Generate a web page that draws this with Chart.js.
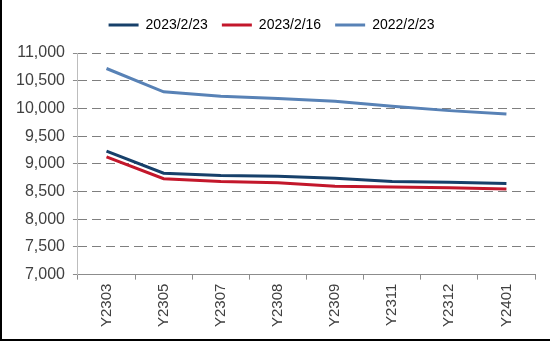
<!DOCTYPE html>
<html>
<head>
<meta charset="utf-8">
<script src="https://cdn.jsdelivr.net/npm/chart.js@4"></script>
<style>
  html, body { margin: 0; padding: 0; background: #fff; }
  #wrap {
    width: 550px; height: 341px; box-sizing: border-box;
    border-left: 2px solid #000; border-bottom: 2px solid #000;
    position: relative;
  }
</style>
</head>
<body>
<div id="wrap"><canvas id="chart"></canvas></div>
<script>
// contract months on the x axis
const contracts = ["Y2303", "Y2305", "Y2307", "Y2308", "Y2309", "Y2311", "Y2312", "Y2401"];

// prices
const feb23_2023 = [9230, 8830, 8790, 8775, 8740, 8680, 8665, 8645];
const feb16_2023 = [9125, 8730, 8680, 8660, 8595, 8580, 8570, 8545];
const feb23_2022 = [10720, 10300, 10220, 10180, 10130, 10040, 9960, 9900];

const yTicks = [7000, 7500, 8000, 8500, 9000, 9500, 10000, 10500, 11000];

function series(label, data, color) {
    return {
        label: label,
        data: data,
        borderColor: color,
        backgroundColor: color,
        borderWidth: 3,
        pointRadius: 0,
        tension: 0,
        fill: false
    };
}

// push the plot area down a bit below the legend
const legendGap = {
    id: 'legendGap',
    beforeInit(chart) {
        const fit = chart.legend.fit;
        chart.legend.fit = function () {
            fit.bind(chart.legend)();
            this.height += 11;
        };
    }
};

const ctx = document.getElementById('chart').getContext('2d');
new Chart(ctx, {
    type: 'line',
    data: {
        labels: contracts,
        datasets: [
            series('2023/2/23', feb23_2023, '#17406A'),
            series('2023/2/16', feb16_2023, '#C3172B'),
            series('2022/2/23', feb23_2022, '#5882B6')
        ]
    },
    plugins: [legendGap],
    options: {
        responsive: true,
        maintainAspectRatio: false,
        animation: false,
        layout: { padding: { left: 6, right: 15, top: 4, bottom: 8 } },
        plugins: {
            tooltip: { enabled: false },
            legend: {
                position: 'top',
                labels: {
                    usePointStyle: true,
                    pointStyle: 'line',
                    pointStyleWidth: 30,
                    boxHeight: 3,
                    padding: 14,
                    color: '#000',
                    font: { family: 'Liberation Sans', size: 14 }
                }
            }
        },
        scales: {
            x: {
                offset: true,
                grid: {
                    offset: true,
                    drawOnChartArea: true,
                    color: c => c.index === contracts.length ? '#bdbdbd' : 'rgba(0,0,0,0)',
                    tickColor: '#8c8c8c',
                    tickLength: 5
                },
                border: { display: true, color: '#8c8c8c' },
                ticks: {
                    maxRotation: 90,
                    minRotation: 90,
                    autoSkip: false,
                    padding: 4,
                    color: '#404040',
                    font: { family: 'Liberation Sans', size: 15 }
                }
            },
            y: {
                min: 7000,
                max: 11000,
                afterBuildTicks: axis => { axis.ticks = yTicks.map(v => ({ value: v })); },
                grid: {
                    color: '#7f7f7f',
                    tickColor: '#8c8c8c',
                    tickLength: 5
                },
                border: { display: true, color: '#bdbdbd', dash: [9, 5] },
                ticks: {
                    padding: 8,
                    color: '#404040',
                    font: { family: 'Liberation Sans', size: 16 },
                    callback: v => v.toLocaleString('en-US')
                }
            }
        }
    }
});
</script>
</body>
</html>
